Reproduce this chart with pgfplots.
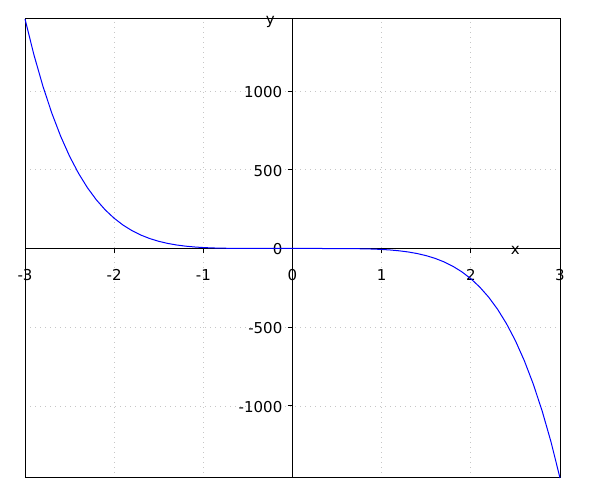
\documentclass[border=0pt]{standalone}
\usepackage{fontspec}
\setmainfont{DejaVu Sans}
\usepackage{pgfplots}
\pgfplotsset{compat=1.18}
\begin{document}
\fontsize{15pt}{18pt}\selectfont
\begin{tikzpicture}[x=1pt,y=1pt]
\useasboundingbox (0,0) rectangle (600,500);
\begin{axis}[
  at={(25pt,22pt)}, anchor=south west,
  scale only axis, width=535pt, height=459pt,
  xmin=-3, xmax=3, ymin=-1458, ymax=1458,
  axis lines=middle,
  axis line style={black, line width=1pt, -},
  xtick={-3,-2,-1,0,1,2,3},
  ytick={-1000,-500,0,500,1000},
  hide obscured x ticks=false, hide obscured y ticks=false,
  grid=major,
  grid style={gray!45, line width=0.8pt, dash pattern=on 1pt off 4pt},
  major tick length=5pt,
  tick style={black, line width=1pt},
  tick align=outside,
  /pgf/number format/assume math mode=true,
  tick label style={font=\fontsize{15pt}{18pt}\selectfont},
  xticklabel style={anchor=north, yshift=-11pt},
  yticklabel style={anchor=east, xshift=0pt, yshift=-1pt},
  /pgf/number format/1000 sep={},
  xlabel={x}, ylabel={y},
  xlabel style={at={(axis cs:2.5,0)}, anchor=center, yshift=-2pt, font=\fontsize{15pt}{18pt}\selectfont},
  ylabel style={at={(axis cs:-0.25,1440)}, anchor=center, rotate=0, font=\fontsize{15pt}{18pt}\selectfont},
  clip=false,
]
\draw[black, line width=1pt] (axis cs:-3,-1458) rectangle (axis cs:3,1458);
\addplot[blue, line width=1pt] coordinates {
(-3.0,1458.0) (-2.9,1230.67) (-2.8,1032.62) (-2.7,860.93) (-2.6,712.88) (-2.5,585.94) (-2.4,477.76) (-2.3,386.18) (-2.2,309.22) (-2.1,245.05) (-2.0,192.0) (-1.9,148.57) (-1.8,113.37) (-1.7,85.19) (-1.6,62.91) (-1.5,45.56) (-1.4,32.27) (-1.3,22.28) (-1.2,14.93) (-1.1,9.66) (-1.0,6.0) (-0.9,3.54) (-0.8,1.966) (-0.6,0.467) (-0.5,0.1875) (-0.3,0.0146) (0,0)
(0.3,-0.0146) (0.5,-0.1875) (0.6,-0.467) (0.8,-1.966) (0.9,-3.54) (1.0,-6.0) (1.1,-9.66) (1.2,-14.93) (1.3,-22.28) (1.4,-32.27) (1.5,-45.56) (1.6,-62.91) (1.7,-85.19) (1.8,-113.37) (1.9,-148.57) (2.0,-192.0) (2.1,-245.05) (2.2,-309.22) (2.3,-386.18) (2.4,-477.76) (2.5,-585.94) (2.6,-712.88) (2.7,-860.93) (2.8,-1032.62) (2.9,-1230.67) (3.0,-1458.0)
};
\end{axis}
\end{tikzpicture}
\end{document}
